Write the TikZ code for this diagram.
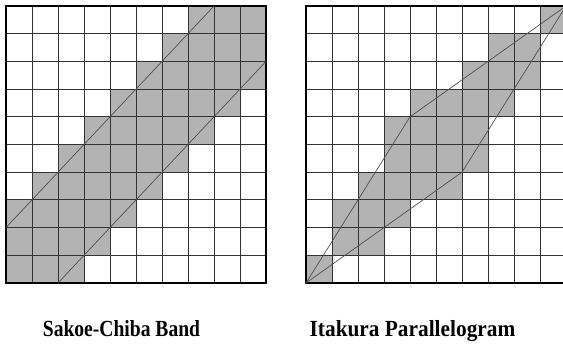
\documentclass[tikz,border=0pt]{standalone}
\usepackage{fontspec}
\setmainfont{Liberation Serif}
\definecolor{bandgray}{HTML}{B3B3B3}
\definecolor{gridgray}{HTML}{333333}
\definecolor{pathgray}{HTML}{505050}
\begin{document}
\begin{tikzpicture}[x=1pt,y=1pt,
  gridline/.style={draw=gridgray,line width=0.9pt},
  frameline/.style={draw=black,line width=1.8pt},
  pathline/.style={draw=pathgray,line width=0.7pt},
  caption/.style={font=\bfseries\fontsize{22}{26}\selectfont,anchor=base,inner sep=0pt,yscale=1.05}]
\useasboundingbox (0,0) rectangle (563,345);
% ---------- Sakoe-Chiba band ----------
\begin{scope}[shift={(6,62)},x=26pt,y=27.7pt]
  \foreach \j in {0,...,9}{
    \foreach \i in {0,...,9}{
      \pgfmathtruncatemacro\dd{abs(\i-\j)}
      \ifnum\dd<3 \fill[bandgray] (\i,\j) rectangle ++(1,1); \fi
    }
  }
  \foreach \k in {1,...,9}{
    \draw[gridline] (\k,0) -- (\k,10);
    \draw[gridline] (0,\k) -- (10,\k);
  }
  \draw[frameline] (0,0) rectangle (10,10);
  \coordinate (sa) at (0,2);
  \coordinate (sb) at (8,10);
  \coordinate (sc) at (2,0);
  \coordinate (sd) at (10,8);
  \draw[pathline] (sa) -- (sb);
  \draw[pathline] (sc) -- (sd);
\end{scope}
% ---------- Itakura parallelogram ----------
\begin{scope}
  \clip (0,0) rectangle (563,345);
  \begin{scope}[shift={(306,62)},x=26pt,y=27.7pt]
    \foreach \i/\j in {9/9, 7/8, 8/8, 6/7, 7/7, 8/7, 4/6, 5/6, 6/6, 7/6,
                       3/5, 4/5, 5/5, 6/5, 3/4, 4/4, 5/4, 6/4, 2/3, 3/3, 4/3, 5/3,
                       1/2, 2/2, 3/2, 1/1, 2/1, 0/0}{
      \fill[bandgray] (\i,\j) rectangle ++(1,1);
    }
    \foreach \k in {1,...,9}{
      \draw[gridline] (\k,0) -- (\k,10);
      \draw[gridline] (0,\k) -- (10,\k);
    }
    \draw[frameline] (0,0) rectangle (10,10);
    \coordinate (p0) at (0,0);
    \coordinate (p1) at (4,6);
    \coordinate (p2) at (10,10);
    \coordinate (p3) at (6,4);
    \draw[pathline] (p0) -- (p1) -- (p2) -- (p3) -- cycle;
  \end{scope}
\end{scope}
% ---------- captions ----------
\node[caption,xscale=0.89] (capL) at (121.5,8) {Sakoe-Chiba Band};
\node[caption,xscale=0.97] (capR) at (412.5,8) {Itakura Parallelogram};
\end{tikzpicture}
\end{document}
